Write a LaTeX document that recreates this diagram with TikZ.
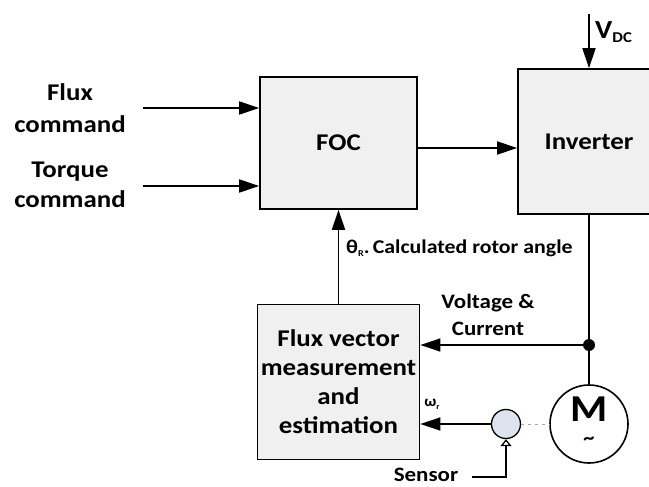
\documentclass[tikz,border=0pt]{standalone}
\usepackage{fontspec}
\setmainfont{Carlito}[FakeStretch=1.12]
\usetikzlibrary{arrows.meta,positioning}
\definecolor{sensorblue}{RGB}{221,228,240}

\begin{document}
\begin{tikzpicture}[x=1pt,y=-1pt]
		\tikzstyle{block}=[rectangle, draw=black, fill=gray!12, line width=1.6pt, align=center, font=\fontsize{24}{29}\selectfont\bfseries]
		\tikzstyle{connect}=[-{Triangle[length=20pt,width=13pt]}, line width=1.6pt]
		\tikzstyle{txt}=[align=center, inner sep=0pt, font=\fontsize{20.5}{27}\selectfont\bfseries]
		\tikzstyle{bigtxt}=[align=center, inner sep=0pt, font=\fontsize{24}{32}\selectfont\bfseries]
		\useasboundingbox (0,0) rectangle (649,487);
		
		\node[block, minimum width=157pt, minimum height=132pt] (foc) at (338.5,143) {FOC};
		\node[block, minimum width=142pt, minimum height=145pt] (inv) at (589,141.5) {Inverter};
		\node[block, minimum width=157pt, minimum height=155pt] (est) at (338.5,382) {Flux vector\\measurement\\and\\estimation};
		
		\node[circle, draw, line width=1.6pt, minimum size=78pt, inner sep=0pt] (motor) at (589,424) {};
		\node[inner sep=0pt, font=\fontsize{38}{38}\selectfont\bfseries] (mlabel) at (589,409) {M};
		\node[inner sep=0pt, font=\fontsize{20}{20}\selectfont\bfseries] (tilde) at (589,441) {\textasciitilde};
		
		\node[circle, draw, line width=1.3pt, fill=sensorblue, minimum size=29pt, inner sep=0pt] (sensor) at (506,424) {};
		\node[circle, fill=black, minimum size=12pt, inner sep=0pt] (dot) at (589,345) {};
		
		\coordinate (vdc) at (589,14);
		\coordinate (fluxin) at (143,108);
		\coordinate (torquein) at (143,186);
		\coordinate (focout) at (417,148);
		\coordinate (sensin) at (472,477);
		
		\node[bigtxt] (flux) at (70,108) {Flux\\command};
		\node[bigtxt, font=\fontsize{24}{30}\selectfont\bfseries] (torque) at (70,185) {Torque\\command};
		\node[inner sep=0pt, anchor=west, font=\fontsize{26}{26}\selectfont\bfseries] (vdclabel) at (595,32) {V\raisebox{-4pt}{\fontsize{15}{15}\selectfont DC}};
		\node[txt, anchor=west, font=\fontsize{19.5}{24}\selectfont\bfseries] (theta) at (346,248) {θ\raisebox{-3pt}{\fontsize{9}{9}\selectfont R}.\,Calculated rotor angle};
		\node[txt] (vi) at (488,314.5) {Voltage \&\\Current};
		\node[inner sep=0pt, font=\fontsize{15}{15}\selectfont\bfseries] (omega) at (432,404) {ω\raisebox{-3pt}{\fontsize{8}{8}\selectfont r}};
		\node[txt] (sensorlabel) at (426,475) {Sensor};
		
		\path (fluxin) edge [connect] (foc.west |- fluxin);
		\path (torquein) edge [connect] (foc.west |- torquein);
		\path (focout) edge [connect] (inv.west |- focout);
		\path (vdc) edge [connect] (inv.north);
		\path (est.north) edge [connect] (foc.south);
		
		\draw[line width=1.6pt] (inv.south) -- (dot) -- (motor.north);
		\path (dot) edge [connect] (est.east |- dot);
		\path (sensor.west) edge [connect] (est.east |- sensor.west);
		
		\draw[gray!70, line width=1pt, dash pattern=on 3pt off 4pt] (sensor.east) -- (motor.west);
		\draw[-{Triangle[open,length=7pt,width=11pt]}, line width=1.3pt] (sensin) -| (sensor.south);
		
	\end{tikzpicture}
\end{document}
